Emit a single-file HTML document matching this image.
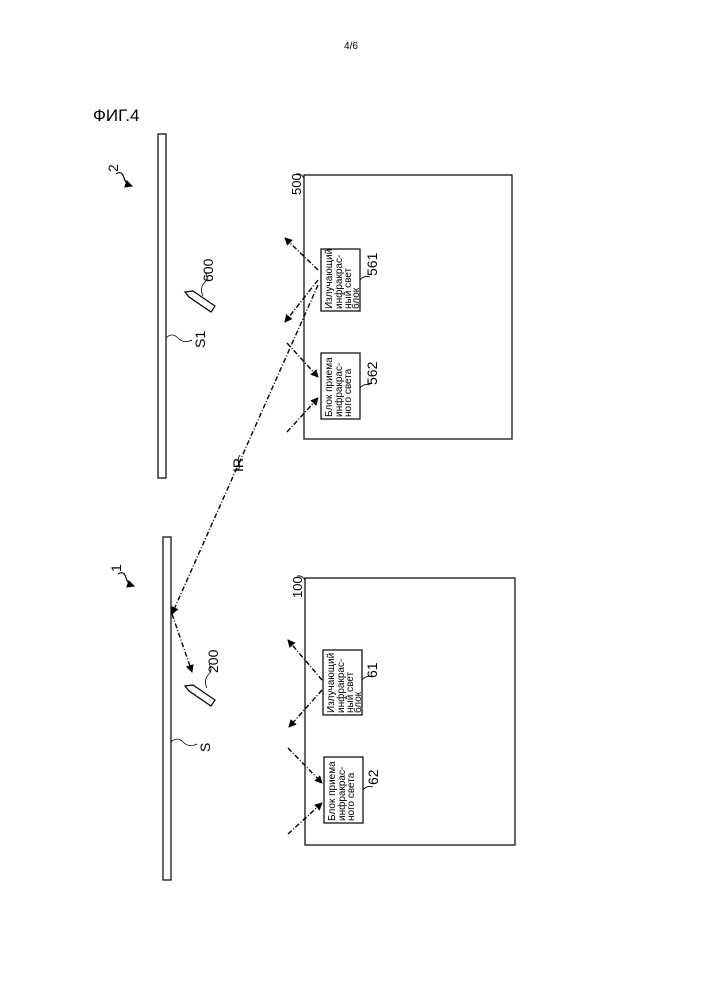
<!DOCTYPE html>
<html><head><meta charset="utf-8"><style>body{margin:0;background:#fff}svg{display:block}text{font-family:"Liberation Sans",sans-serif;fill:#000}</style></head><body>
<svg width="701" height="1000" viewBox="0 0 701 1000" xmlns="http://www.w3.org/2000/svg">
<defs><marker id="a" markerWidth="8" markerHeight="8" refX="7" refY="4" orient="auto" markerUnits="userSpaceOnUse"><path d="M0,0 L8,4 L0,8 z" fill="#000"/></marker></defs>
<text x="351" y="49" font-size="10" text-anchor="middle">4/6</text>
<text x="93" y="121" font-size="17">ФИГ.4</text>
<g fill="none" stroke="#000" stroke-width="1.2">
<rect x="158" y="134" width="8" height="344"/>
<rect x="163" y="537" width="8" height="343"/>
<rect x="304" y="175" width="208" height="264"/>
<rect x="321" y="249" width="39" height="62"/>
<rect x="321" y="353" width="39" height="66"/>
<rect x="305" y="578" width="210" height="267"/>
<rect x="323" y="650" width="39" height="65"/>
<rect x="324" y="757" width="39" height="66"/>
<path d="M116,174 q6,-4 8,4 q2,6 8,8" marker-end="url(#a)"/>
<path d="M118,574 q6,-4 8,4 q2,6 8,8" marker-end="url(#a)"/>
<path d="M185,292 l8,-1 l22,15 l-4,6 l-22,-15 z"/>
<path d="M185,686 l8,-1 l22,15 l-4,6 l-22,-15 z"/>
<path d="M203,296 q-4,-8 2,-14 q4,-4 0,-10" stroke-width="0.8"/>
<path d="M207,688 q-4,-8 2,-14 q4,-4 0,-10" stroke-width="0.8"/>
<path d="M166,338 q6,-6 12,0 q6,6 14,2" stroke-width="0.8"/>
<path d="M171,742 q6,-6 12,0 q6,6 14,2" stroke-width="0.8"/>
<path d="M304,178 q-3,-5 -8,-4" stroke-width="0.8"/>
<path d="M305,580 q-3,-5 -8,-4" stroke-width="0.8"/>
<path d="M360,280 q4,-5 10,-3" stroke-width="0.8"/>
<path d="M360,388 q4,-5 10,-3" stroke-width="0.8"/>
<path d="M362,680 q4,-5 10,-3" stroke-width="0.8"/>
<path d="M363,790 q4,-5 10,-3" stroke-width="0.8"/>
<path d="M240,455 q-3,4 -1,8 q2,4 -2,8" stroke-width="0.8"/>
</g>
<g fill="none" stroke="#000" stroke-width="1.4" stroke-dasharray="5,2,1,2">
<line x1="318" y1="270" x2="285" y2="238" marker-end="url(#a)"/>
<line x1="318" y1="280" x2="285" y2="322" marker-end="url(#a)"/>
<line x1="287" y1="343" x2="318" y2="377" marker-end="url(#a)"/>
<line x1="287" y1="432" x2="318" y2="398" marker-end="url(#a)"/>
<line x1="318" y1="285" x2="172" y2="614" marker-end="url(#a)"/>
<line x1="172" y1="614" x2="192" y2="672" marker-end="url(#a)"/>
<line x1="322" y1="680" x2="288" y2="640" marker-end="url(#a)"/>
<line x1="322" y1="690" x2="289" y2="727" marker-end="url(#a)"/>
<line x1="288" y1="748" x2="322" y2="783" marker-end="url(#a)"/>
<line x1="288" y1="834" x2="322" y2="803" marker-end="url(#a)"/>
</g>
<g font-size="14">
<text transform="translate(118,172) rotate(-90)">2</text>
<text transform="translate(121,572) rotate(-90)">1</text>
<text transform="translate(213,282) rotate(-90)">600</text>
<text transform="translate(218,673) rotate(-90)">200</text>
<text transform="translate(205,348) rotate(-90)">S1</text>
<text transform="translate(210,752) rotate(-90)">S</text>
<text transform="translate(301,195) rotate(-90)" font-size="13">500</text>
<text transform="translate(302,598) rotate(-90)" font-size="13">100</text>
<text transform="translate(377,276) rotate(-90)">561</text>
<text transform="translate(377,385) rotate(-90)">562</text>
<text transform="translate(377,678) rotate(-90)">61</text>
<text transform="translate(378,785) rotate(-90)">62</text>
<text transform="translate(243,472) rotate(-90)" font-family="Liberation Serif">IR</text>
</g>
<g font-size="10">
<text transform="translate(332,309) rotate(-90)">Излучающий</text>
<text transform="translate(342,309) rotate(-90)">инфракрас-</text>
<text transform="translate(351,309) rotate(-90)">ный свет</text>
<text transform="translate(359,309) rotate(-90)">блок</text>
<text transform="translate(332,417) rotate(-90)">Блок приема</text>
<text transform="translate(342,417) rotate(-90)">инфракрас-</text>
<text transform="translate(351,417) rotate(-90)">ного света</text>
<text transform="translate(334,713) rotate(-90)">Излучающий</text>
<text transform="translate(344,713) rotate(-90)">инфракрас-</text>
<text transform="translate(353,713) rotate(-90)">ный свет</text>
<text transform="translate(361,713) rotate(-90)">блок</text>
<text transform="translate(335,821) rotate(-90)">Блок приема</text>
<text transform="translate(345,821) rotate(-90)">инфракрас-</text>
<text transform="translate(354,821) rotate(-90)">ного света</text>
</g>
</svg>
</body></html>
